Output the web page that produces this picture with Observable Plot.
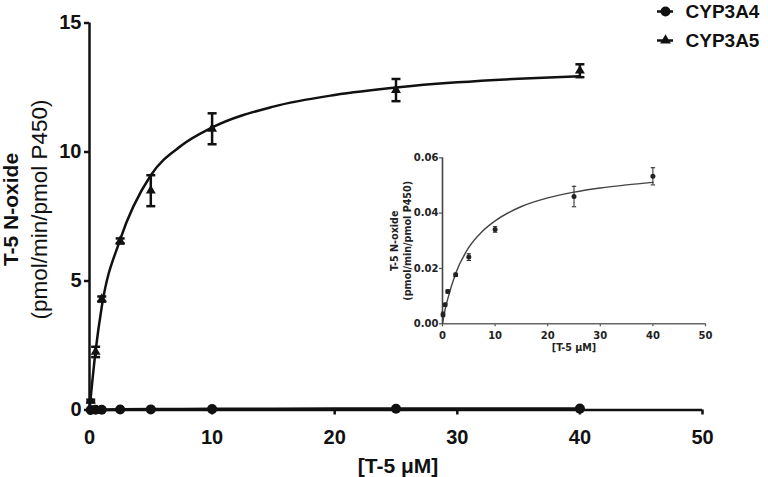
<!DOCTYPE html>
<html><head><meta charset="utf-8">
<script src="https://cdn.jsdelivr.net/npm/d3@7"></script>
<script src="https://cdn.jsdelivr.net/npm/@observablehq/plot@0.6"></script>
<style>
body{margin:0;background:#fff;}
#wrap{position:relative;width:768px;height:477px;overflow:hidden;background:#fff;}
#wrap > svg{position:absolute;overflow:visible;}
</style></head><body><div id="wrap"></div>
<script>
// ---- data ----
const seriesNames = ["CYP3A4", "CYP3A5"];
const conc = [0.1, 0.5, 1, 2.5, 5, 10, 25, 40];
const cyp3a5Rate = [0.35, 2.25, 4.3, 6.55, 8.5, 10.9, 12.4, 13.15];
const cyp3a5Err  = [0.05, 0.2, 0.1, 0.1, 0.6, 0.6, 0.43, 0.25];
const cyp3a4Rate = [0.0034, 0.0069, 0.0117, 0.0177, 0.0241, 0.0341, 0.046, 0.0533];
const cyp3a4Err  = [0.0008, 0.0005, 0.0006, 0.0006, 0.0012, 0.001, 0.0037, 0.0031];
const fitConc   = [0, 0.5, 1, 2.5, 5, 7.5, 10, 15, 20, 25, 30, 35, 40];
const cyp3a5Fit = [0, 2.3, 4.0, 6.6, 9.1, 10.25, 10.95, 11.76, 12.21, 12.5, 12.7, 12.84, 12.94];
const cyp3a4Fit = [0, 0.0052, 0.009, 0.0182, 0.0276, 0.0333, 0.0372, 0.0424, 0.0455, 0.0476, 0.0491, 0.0502, 0.0511];
const mainXTicks = [0, 10, 20, 30, 40, 50];
const mainYTicks = [0, 5, 10, 15];
const insetXTicks = [0, 10, 20, 30, 40, 50];
const insetYTicks = [0, 0.02, 0.04, 0.06];
const xLabel = "[T-5 μM]";
const yLabel1 = "T-5 N-oxide";
const yLabel2 = "(pmol/min/pmol P450)";

// ---- tables ----
const a5 = conc.map((x, i) => ({x, y: cyp3a5Rate[i], e: cyp3a5Err[i]}));
const a4 = conc.map((x, i) => ({x, y: cyp3a4Rate[i], e: cyp3a4Err[i]}));
const fit5 = fitConc.map((x, i) => ({x, y: cyp3a5Fit[i]}));
const fit4 = fitConc.map((x, i) => ({x, y: cyp3a4Fit[i]}));

// horizontal cap symbol for error bars (fixed pixel width)
const cap = {draw(ctx, size) { const w = Math.sqrt(size / Math.PI); ctx.moveTo(-w, 0); ctx.lineTo(w, 0); }};

const ink = "#111";
const wrap = document.getElementById("wrap");

// ---- main chart ----
const main = Plot.plot({
  width: 768, height: 477,
  marginLeft: 89, marginRight: 66, marginTop: 22.5, marginBottom: 67.5,
  style: {fontFamily: "'Liberation Sans', Arial, sans-serif", fontSize: "20px", fontWeight: "bold", color: ink, background: "transparent"},
  x: {domain: [0, 50]},
  y: {domain: [0, 15]},
  marks: [
    Plot.axisX(mainXTicks, {tickSize: 5, tickPadding: 15, strokeWidth: 2.5, label: null, tickFormat: d => String(d)}),
    Plot.axisY(mainYTicks, {tickSize: 5, tickPadding: 3, strokeWidth: 2.5, label: null, tickFormat: d => String(d)}),
    Plot.ruleX([mainXTicks[0]], {y1: mainYTicks[0], y2: mainYTicks[mainYTicks.length - 1], stroke: ink, strokeWidth: 2.5}),
    Plot.ruleY([mainYTicks[0]], {x1: mainXTicks[0], x2: mainXTicks[mainXTicks.length - 1], stroke: ink, strokeWidth: 2.5}),
    // CYP3A4 on main scale (≈0)
    Plot.line(fit4, {x: "x", y: "y", stroke: ink, strokeWidth: 3}),
    Plot.dot(a4, {x: "x", y: "y", r: 5, fill: ink, symbol: "circle"}),
    // CYP3A5
    Plot.line(fit5, {x: "x", y: "y", curve: "monotone-x", stroke: ink, strokeWidth: 2.5}),
    Plot.ruleX(a5, {x: "x", y1: d => d.y - d.e, y2: d => d.y + d.e, stroke: ink, strokeWidth: 2.5}),
    Plot.dot(a5, {x: "x", y: d => d.y + d.e, symbol: cap, r: 4.5, stroke: ink, strokeWidth: 2.5}),
    Plot.dot(a5, {x: "x", y: d => d.y - d.e, symbol: cap, r: 4.5, stroke: ink, strokeWidth: 2.5}),
    Plot.dot(a5, {x: "x", y: "y", symbol: "triangle", r: 3.7, fill: ink}),
    // axis titles
    Plot.text([yLabel1], {text: d => d, frameAnchor: "left", textAnchor: "middle", lineAnchor: "middle", rotate: -90, dx: -78, dy: -7, fontSize: 21, fontWeight: "bold", fill: ink}),
    Plot.text([yLabel2], {text: d => d, frameAnchor: "left", textAnchor: "middle", lineAnchor: "middle", rotate: -90, dx: -50, dy: -7, fontSize: 22.5, fontWeight: "normal", fill: ink}),
    Plot.text([xLabel], {text: d => d, frameAnchor: "bottom", lineAnchor: "middle", dy: 56, dx: 2, fontSize: 21, fontWeight: "bold", fill: ink})
  ]
});
main.style.left = "0px"; main.style.top = "0px";
wrap.appendChild(main);

// ---- inset ----
const insetInk = "#222";
const inset = Plot.plot({
  width: 350, height: 215,
  marginLeft: 72, marginRight: 15, marginTop: 17.3, marginBottom: 31.7,
  style: {fontFamily: "'DejaVu Sans', Verdana, sans-serif", fontSize: "10px", fontWeight: "bold", color: insetInk, background: "transparent"},
  x: {domain: [0, 50]},
  y: {domain: [0, 0.06]},
  marks: [
    Plot.axisX(insetXTicks, {tickSize: 3, tickPadding: 5, label: null, stroke: "#555", strokeWidth: 1.2, tickFormat: d => String(d)}),
    Plot.axisY(insetYTicks, {tickSize: 3, tickPadding: 1, label: null, stroke: "#555", strokeWidth: 1.2, tickFormat: d3.format(".2f")}),
    Plot.ruleX([insetXTicks[0]], {y1: insetYTicks[0], y2: insetYTicks[insetYTicks.length - 1], stroke: "#444", strokeWidth: 1.6}),
    Plot.ruleY([insetYTicks[0]], {x1: insetXTicks[0], x2: insetXTicks[insetXTicks.length - 1], stroke: "#666", strokeWidth: 1.6}),
    Plot.line(fit4, {x: "x", y: "y", curve: "monotone-x", stroke: "#444", strokeWidth: 1.4}),
    Plot.ruleX(a4, {x: "x", y1: d => d.y - d.e, y2: d => d.y + d.e, stroke: insetInk, strokeWidth: 1}),
    Plot.dot(a4, {x: "x", y: d => d.y + d.e, symbol: cap, r: 2.2, stroke: insetInk, strokeWidth: 1}),
    Plot.dot(a4, {x: "x", y: d => d.y - d.e, symbol: cap, r: 2.2, stroke: insetInk, strokeWidth: 1}),
    Plot.dot(a4, {x: "x", y: "y", r: 2.5, fill: insetInk}),
    Plot.text([yLabel1], {text: d => d, frameAnchor: "left", textAnchor: "middle", lineAnchor: "middle", rotate: -90, dx: -48, fontSize: 9.6, fontWeight: "bold", fill: insetInk}),
    Plot.text([yLabel2], {text: d => d, frameAnchor: "left", textAnchor: "middle", lineAnchor: "middle", rotate: -90, dx: -35, fontSize: 9.6, fontWeight: "bold", fill: insetInk}),
    Plot.text([xLabel], {text: d => d, frameAnchor: "bottom", lineAnchor: "middle", dy: 24, fontSize: 9.6, fontWeight: "bold", fill: insetInk})
  ]
});
inset.style.left = "370px"; inset.style.top = "140px";
wrap.appendChild(inset);

// ---- legend ----
const legend = Plot.plot({
  width: 115, height: 56,
  marginLeft: 4, marginRight: 95, marginTop: 0, marginBottom: 0,
  style: {fontFamily: "'Liberation Sans', Arial, sans-serif", fontSize: "19px", fontWeight: "bold", color: ink, background: "transparent"},
  y: {type: "point", domain: seriesNames, range: [11, 40], padding: 0, axis: null},
  marks: [
    Plot.tickY(seriesNames, {y: d => d, stroke: ink, strokeWidth: 2.5}),
    Plot.dot(seriesNames, {filter: (d, i) => i === 0, y: d => d, symbol: "circle", r: 5, fill: ink}),
    Plot.dot(seriesNames, {filter: (d, i) => i === 1, y: d => d, symbol: "triangle", r: 4, fill: ink}),
    Plot.text(seriesNames, {y: d => d, text: d => d, frameAnchor: "right", textAnchor: "start", dx: 12, fontSize: 19, fontWeight: "bold", fill: ink})
  ]
});
legend.style.left = "653px"; legend.style.top = "0px";
wrap.appendChild(legend);
</script>
</body></html>
